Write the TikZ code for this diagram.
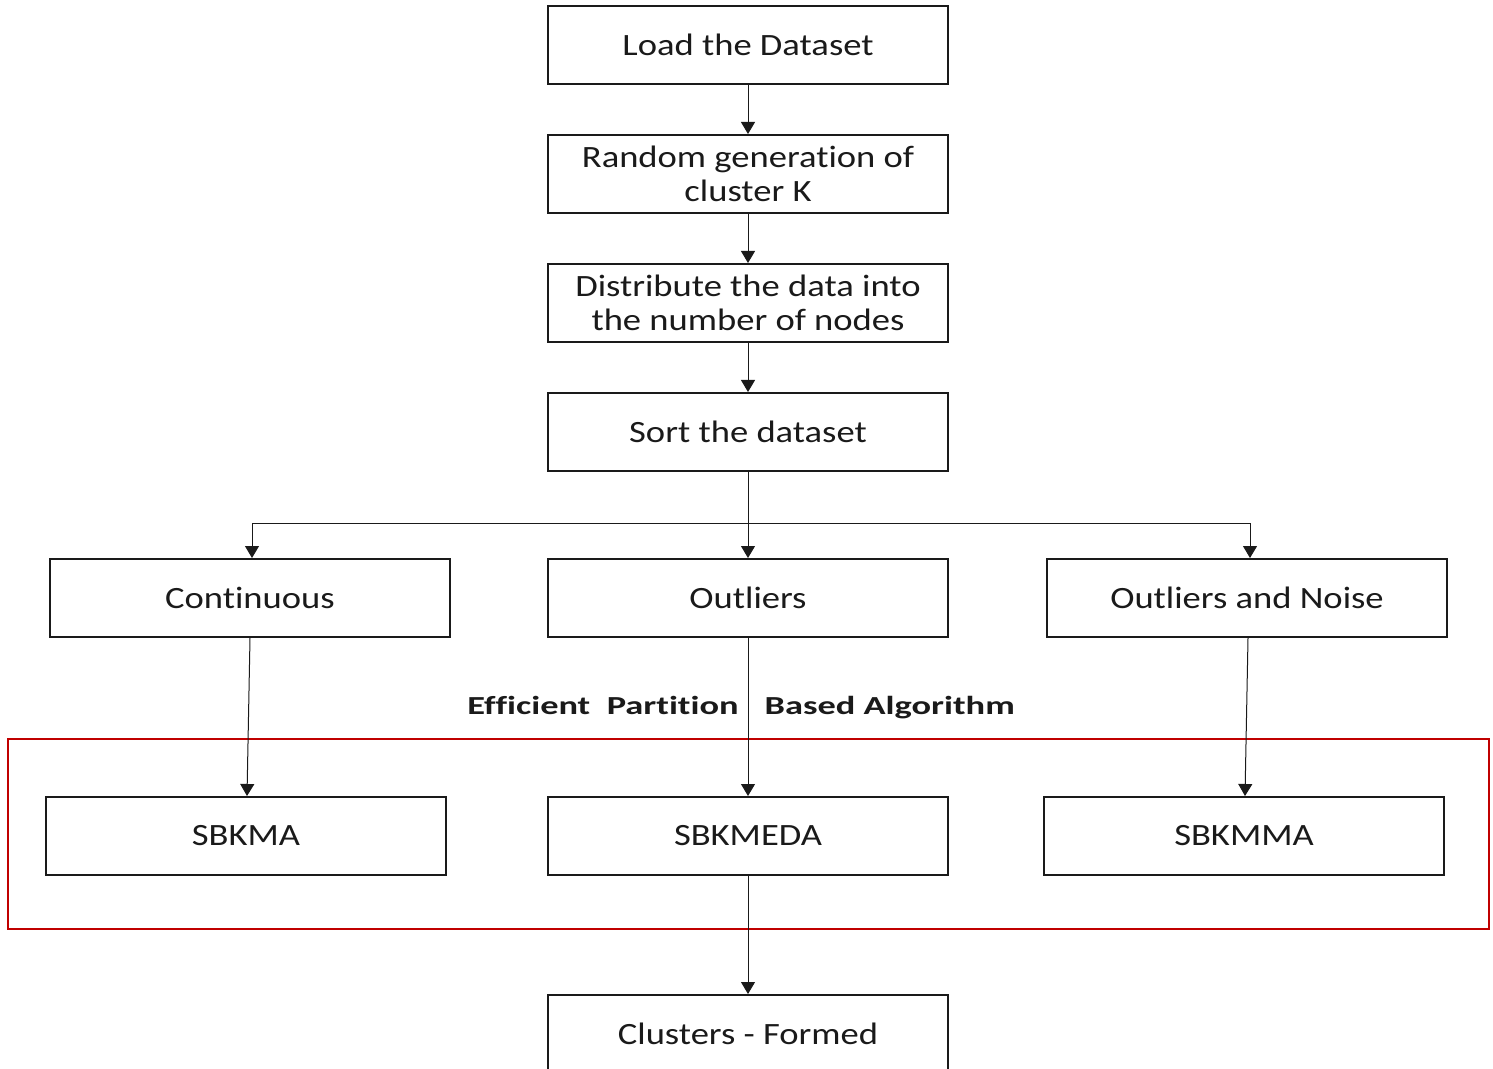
\documentclass[tikz,border=0pt]{standalone}
\usepackage{fontspec}
\setmainfont{Carlito}[FakeStretch=1.18,Ligatures=NoCommon]
\newfontfamily\labelfont{Carlito}[FakeStretch=1.40,Ligatures=NoCommon]
\usetikzlibrary{arrows.meta,positioning}
\definecolor{FlowInk}{HTML}{1A1A1A}
\definecolor{FlowRed}{HTML}{C00000}

\tikzset{
  stepbox/.style={draw=FlowInk,line width=1pt,minimum width=200pt,minimum height=39pt,
    inner sep=0pt,align=center,text=FlowInk,font=\fontsize{15.5}{17}\selectfont},
  flow/.style={-{Triangle[width=7pt,length=6pt]},line width=0.5pt,FlowInk}
}

\begin{document}
\begin{tikzpicture}[x=0.5pt,y=-0.5pt]
  \useasboundingbox (0,0) rectangle (1493,1069);
  \clip (0,0) rectangle (1493,1069);

  % Main column.
  \node[stepbox] (load) at (748,45) {Load the Dataset};
  \node[stepbox] (randk) at (748,174) {Random generation of\\cluster K};
  \node[stepbox] (distrib) at (748,303) {Distribute the data into\\the number of nodes};
  \node[stepbox] (sortds) at (748,432) {Sort the dataset};
  \draw[flow] (load) -- (randk);
  \draw[flow] (randk) -- (distrib);
  \draw[flow] (distrib) -- (sortds);

  % Data types.
  \node[stepbox] (cont) at (250,598) {Continuous};
  \node[stepbox] (outl) at (748,598) {Outliers};
  \node[stepbox] (outn) at (1247,598) {Outliers and Noise};
  \coordinate (split) at (748,523);
  \draw[line width=0.5pt,FlowInk] (sortds) -- (split);
  \draw[flow] (split) -- (outl);
  \draw[flow] (split) -| ([xshift=1pt]cont.north);
  \draw[flow] (split) -| ([xshift=1.5pt]outn.north);

  % Algorithms.
  \node[font=\labelfont\bfseries\fontsize{13}{16}\selectfont,text=FlowInk] (algo) at (741,708)
    {Efficient\ \ Partition\hspace{13pt}Based Algorithm};
  \draw[FlowRed,line width=1pt] (8,739) rectangle (1489,929);
  \node[stepbox] (sbkma) at (246,836) {SBKMA};
  \node[stepbox] (sbkmeda) at (748,836) {SBKMEDA};
  \node[stepbox] (sbkmma) at (1244,836) {SBKMMA};
  \draw[flow] (cont.south) -- ([xshift=0.5pt]sbkma.north);
  \draw[flow] (outl) -- (sbkmeda);
  \draw[flow] ([xshift=0.5pt]outn.south) -- ([xshift=0.5pt]sbkmma.north);

  % Result.
  \node[stepbox] (formed) at (748,1034) {Clusters - Formed};
  \draw[flow] (sbkmeda) -- (formed);
\end{tikzpicture}
\end{document}
